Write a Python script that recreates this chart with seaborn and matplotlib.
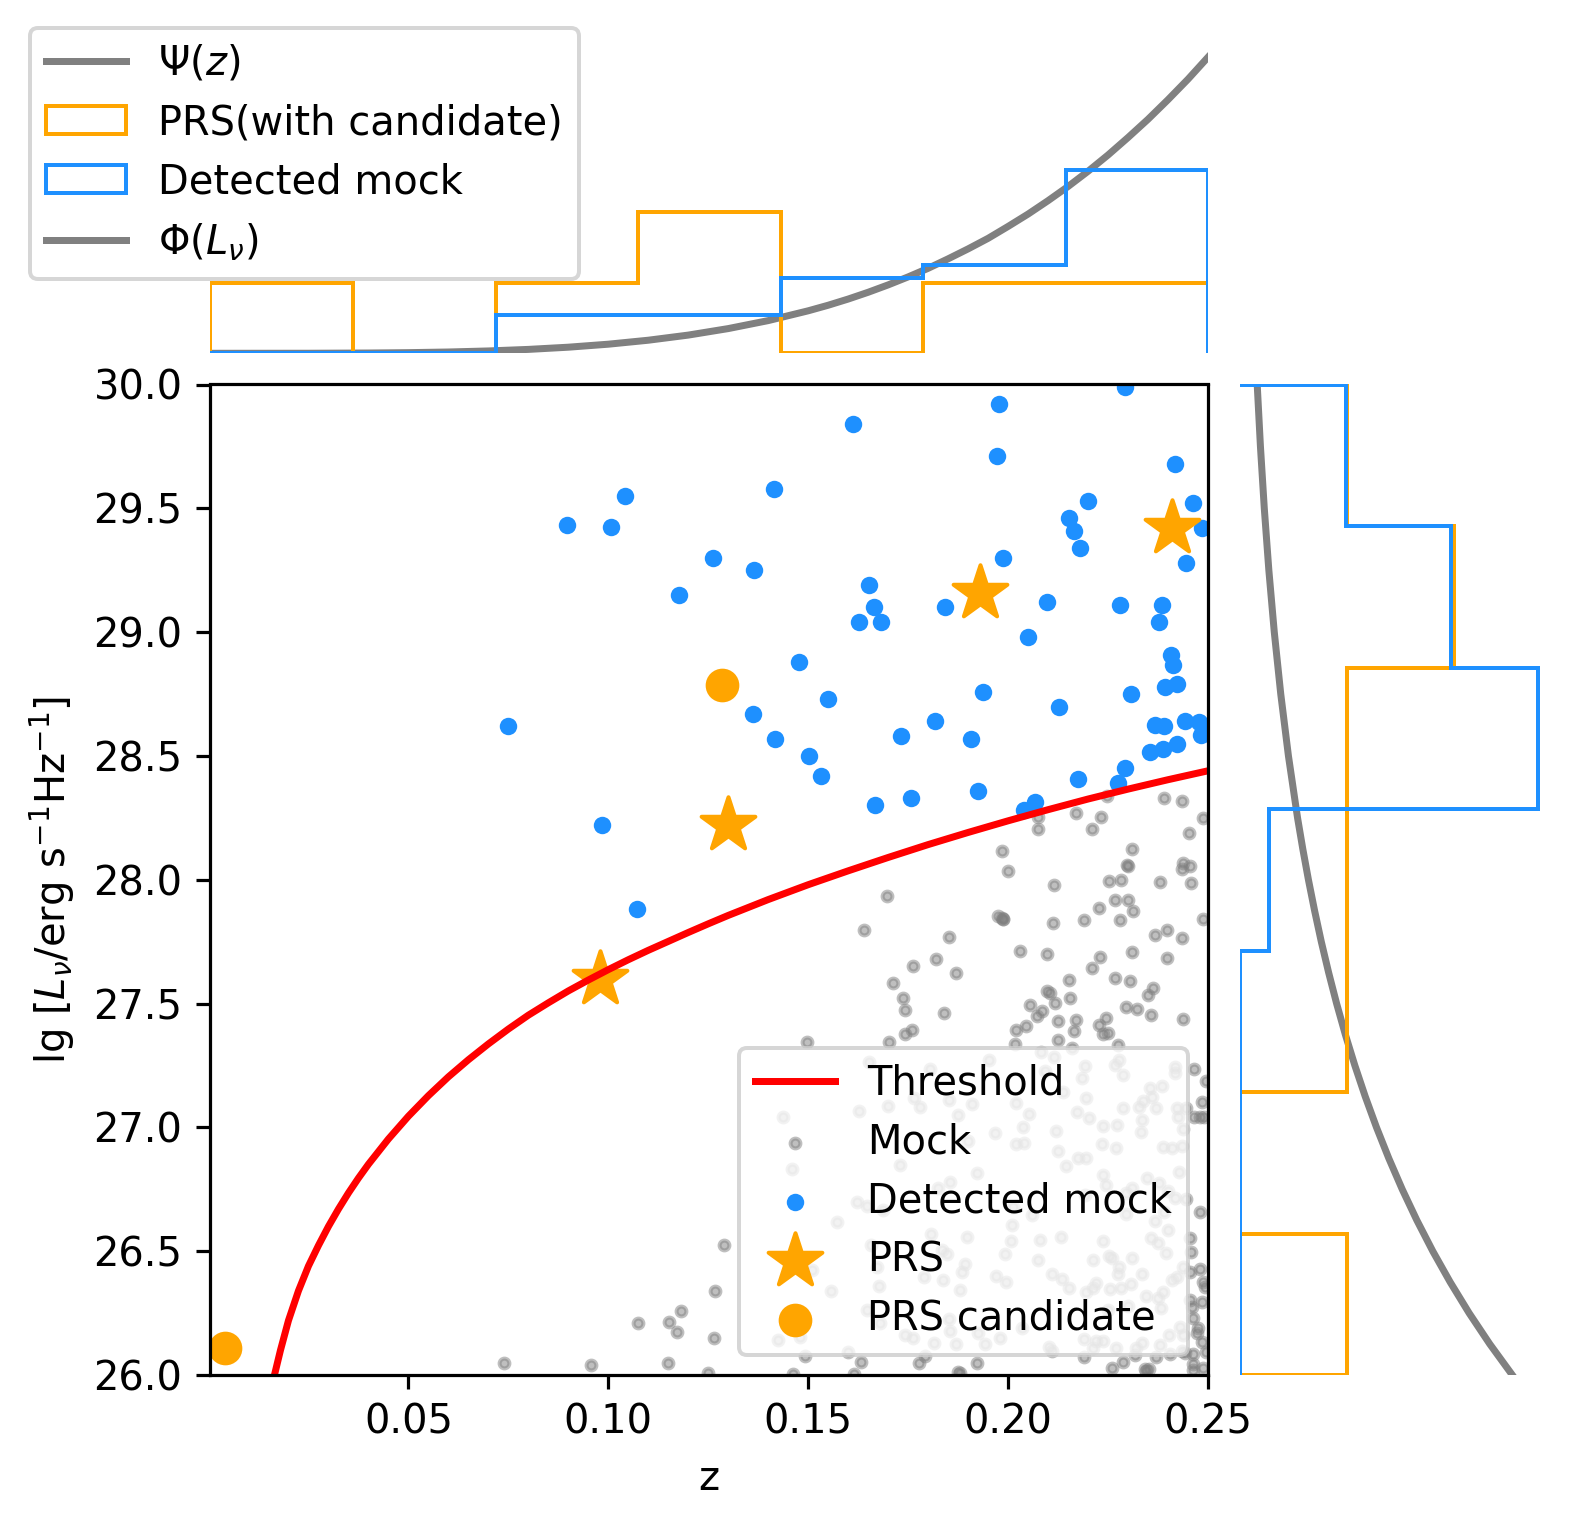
import numpy as np
import seaborn as sns
import matplotlib.pyplot as plt
from matplotlib.lines import Line2D

# --- values ---
detected_z = [.2292, .1977, .1612, .1972, .2418, .1415, .1042, .2201, .2463, .2153, .0896, .1007,
              .2166, .2484, .2181, .1261, .1987, .2446, .1365, .1652, .1176, .2098, .2279, .2385,
              .1841, .1665, .1627, .1682, .2378, .2050, .2408, .2413, .1478, .2392, .2422, .1937,
              .2307, .1549, .2127, .1362, .1818, .2442, .2478, .2367, .2390, .0749, .1418, .1733,
              .1907, .2483, .2423, .2388, .2356, .1503, .2292, .1533, .2175, .2274, .1924, .1756,
              .1667, .2067, .2040, .0983, .1072, .2560, .2495, .2000]
detected_lg = [29.99, 29.92, 29.84, 29.71, 29.68, 29.58, 29.55, 29.53, 29.52, 29.46, 29.431, 29.425,
               29.41, 29.42, 29.34, 29.30, 29.30, 29.28, 29.25, 29.19, 29.15, 29.12, 29.11, 29.11,
               29.10, 29.10, 29.04, 29.04, 29.04, 28.98, 28.909, 28.867, 28.88, 28.78, 28.79, 28.76,
               28.75, 28.73, 28.697, 28.67, 28.64, 28.641, 28.638, 28.625, 28.622, 28.62, 28.57, 28.58,
               28.57, 28.584, 28.548, 28.526, 28.514, 28.50, 28.45, 28.42, 28.405, 28.392, 28.36, 28.33,
               28.30, 28.312, 28.28, 28.22, 27.88, 28.70, 28.60, 30.1]

mock_z = [.2248, .2391, .2436, .2488, .2171, .2233, .2076, .2075, .2211, .2453, .1984, .2309,
          .2297, .2301, .2438, .2434, .2455, .2000, .2115, .2252, .2282, .2381, .2458, .2267,
          .2301, .2312, .2227, .1984, .1988, .2113, .2191, .2279, .2488, .2367, .2398, .2434,
          .2029, .2097, .2231, .2310, .2397, .2211, .2153, .2267, .2305, .2362, .2351, .2097,
          .2106, .2117, .2154, .2055, .2084, .2073, .2296, .2323, .2358, .2438, .2245, .2228,
          .2171, .2124, .2164, .2238, .2251, .2045, .2019, .2126, .2018, .2161, .2275, .2082,
          .2116, .2193, .2277, .2267, .2287, .2184, .2092, .2417, .2417, .2466, .2495, .2355,
          .2386, .1697, .1639, .1853, .1974, .1986, .1819, .1761, .1869, .1712, .1737, .1741,
          .1840, .1760, .1742, .1498, .1702, .1653, .1805, .1952, .1436, .1626, .1700, .1765,
          .1779, .1853, .1909, .1875, .1900, .1459, .1729, .1921, .1854, .1824, .1621, .1647,
          .1688, .1573, .2484, .2465, .2480, .2490, .2480, .2138, .2020, .2053, .2196, .2173,
          .2203, .2238, .2273, .2038, .2120, .1967, .2021, .2041, .2126, .2236, .2270, .2176,
          .2195, .2146, .2337, .2359, .2327, .2288, .2370, .2334, .2332, .2423, .2445, .2424,
          .2437, .2388, .2411, .2434, .2427, .2238, .2246, .2348, .2378, .2309, .2296, .2400,
          .2417, .2446, .2192, .2296, .2059, .2013, .2390, .1806, .1896, .1658, .1846, .1834,
          .1892, .1884, .1671, .1510, .1790, .1838, .1557, .1678, .1879, .1646, .1679, .1853,
          .1855, .1925, .1942, .1869, .1815, .1742, .1763, .1425, .1479, .1600, .1792, .1492,
          .1632, .1778, .1923, .1461, .1615, .1875, .1879, .2011, .2007, .1992, .2080, .2074,
          .2132, .2238, .2213, .2253, .2261, .2309, .2278, .2274, .2357, .2376, .2399, .2394,
          .2367, .2438, .2422, .2409, .2336, .1969, .1994, .2111, .2136, .2153, .2221, .2213,
          .2196, .2255, .2282, .2307, .2345, .2387, .2374, .2382, .2301, .2251, .2430, .2438,
          .2402, .2379, .2334, .2321, .2269, .2238, .2220, .2213, .2190, .2103, .2109, .1979,
          .2034, .2405, .2434, .2455, .2457, .2455, .2480, .2488, .2492, .2455, .2484, .2459,
          .2463, .2476, .2473, .2484, .2495, .2463, .2442, .2463, .2488, .2463, .2190, .2288,
          .2260, .2342, .2353, .2346, .2371, .2317, .1289, .1266, .1075, .1153, .1183, .1173,
          .1264, .0740, .0956, .1150, .1249]
mock_lg = [28.338, 28.332, 28.320, 28.248, 28.270, 28.254, 28.254, 28.205, 28.205, 28.190, 28.117, 28.125,
           28.060, 28.055, 28.069, 28.044, 28.055, 28.036, 27.978, 27.993, 27.999, 27.992, 27.985, 27.918,
           27.918, 27.872, 27.884, 27.844, 27.841, 27.824, 27.836, 27.836, 27.841, 27.777, 27.799, 27.763,
           27.714, 27.701, 27.689, 27.709, 27.686, 27.643, 27.596, 27.605, 27.590, 27.562, 27.533, 27.549,
           27.541, 27.504, 27.524, 27.495, 27.471, 27.450, 27.487, 27.480, 27.453, 27.436, 27.441, 27.415,
           27.434, 27.429, 27.390, 27.379, 27.383, 27.409, 27.395, 27.351, 27.336, 27.320, 27.333, 27.305,
           27.285, 27.247, 27.271, 27.250, 27.211, 27.201, 27.228, 27.242, 27.218, 27.234, 27.187, 27.160,
           27.168, 27.935, 27.799, 27.768, 27.853, 27.841, 27.681, 27.651, 27.624, 27.584, 27.522, 27.472,
           27.460, 27.394, 27.378, 27.346, 27.346, 27.262, 27.235, 27.272, 27.040, 27.067, 27.085, 27.117,
           27.081, 27.110, 27.094, 27.050, 26.945, 26.830, 26.848, 26.814, 26.781, 26.754, 26.700, 26.684,
           26.666, 26.619, 27.104, 27.040, 27.040, 27.043, 26.660, 27.141, 27.097, 27.054, 27.117, 27.063,
           27.039, 27.004, 27.010, 27.003, 26.985, 26.976, 26.931, 26.935, 26.906, 26.931, 26.915, 26.878,
           26.875, 26.845, 27.108, 27.124, 27.081, 27.080, 27.077, 27.030, 26.980, 27.080, 27.077, 27.040,
           26.993, 26.922, 26.915, 26.925, 26.821, 26.808, 26.767, 26.794, 26.774, 26.754, 26.734, 26.744,
           26.713, 26.709, 26.727, 26.650, 26.646, 26.680, 26.660, 26.569, 26.556, 26.525, 26.487, 26.505,
           26.447, 26.417, 26.438, 26.424, 26.394, 26.384, 26.339, 26.360, 26.343, 26.263, 26.209, 26.226,
           26.178, 26.168, 26.125, 26.125, 26.131, 26.162, 26.148, 26.141, 26.152, 26.092, 26.078, 26.078,
           26.051, 26.050, 26.047, 26.003, 26.003, 26.014, 26.007, 26.606, 26.543, 26.487, 26.545, 26.464,
           26.556, 26.541, 26.464, 26.481, 26.471, 26.474, 26.438, 26.408, 26.552, 26.532, 26.586, 26.491,
           26.620, 26.438, 26.397, 26.384, 26.407, 26.400, 26.374, 26.407, 26.386, 26.350, 26.370, 26.350,
           26.337, 26.346, 26.351, 26.368, 26.319, 26.337, 26.310, 26.269, 26.279, 26.263, 26.195, 26.162,
           26.162, 26.121, 26.131, 26.108, 26.108, 26.139, 26.139, 26.108, 26.145, 26.115, 26.095, 26.148,
           26.188, 26.085, 26.098, 26.552, 26.498, 26.417, 26.427, 26.377, 26.357, 26.303, 26.296, 26.276,
           26.229, 26.188, 26.168, 26.135, 26.094, 26.085, 26.088, 26.045, 26.027, 26.020, 26.074, 26.054,
           26.030, 26.025, 26.025, 26.018, 26.074, 26.080, 26.525, 26.338, 26.212, 26.216, 26.260, 26.175,
           26.151, 26.050, 26.040, 26.050, 26.010]

prs_z = [.098, .130, .193, .241]
prs_lg = [27.60, 28.22, 29.16, 29.42]
cand_z = [.1285, .0042]
cand_lg = [28.785, 26.11]
# one more PRS enters the lg histogram only (z beyond the plotted range)
extra_lg = [29.50]

thresh_z = [.0165, .018, .02, .0225, .025, .0275, .03, .0325, .035, .0375, .04, .045, .05, .055, .06,
            .065, .07, .075, .08, .085, .09, .095, .10, .105, .11, .115, .12, .125, .13, .14, .15,
            .16, .17, .18, .19, .20, .21, .22, .23, .24, .25]
thresh_lg = [26.0, 26.10, 26.22, 26.34, 26.44, 26.523, 26.60, 26.67, 26.735, 26.795, 26.851, 26.953,
             27.045, 27.128, 27.204, 27.273, 27.337, 27.397, 27.453, 27.503, 27.551, 27.595, 27.637,
             27.677, 27.715, 27.751, 27.787, 27.822, 27.856, 27.92, 27.98, 28.036, 28.09, 28.142,
             28.191, 28.238, 28.283, 28.326, 28.366, 28.404, 28.44]

psi_z = [.0005, .025, .04, .05, .06, .07, .08, .09, .10, .11, .12, .13, .14, .15, .155, .16, .165, .17,
         .175, .18, .185, .19, .195, .20, .205, .21, .215, .22, .225, .23, .235, .24, .245, .25]
psi_val = [0, .003, .019, .043, .086, .156, .259, .405, .604, .868, 1.208, 1.64, 2.17, 2.82, 3.19, 3.60,
           4.05, 4.54, 5.07, 5.64, 6.27, 6.93, 7.63, 8.42, 9.24, 10.13, 11.07, 12.08, 13.16, 14.32,
           15.53, 16.83, 18.19, 19.65]

phi_lg = [26, 26.125, 26.25, 26.375, 26.5, 26.625, 26.75, 26.875, 27, 27.125, 27.25, 27.375, 27.5, 27.625,
          27.75, 27.875, 28, 28.125, 28.25, 28.5, 28.75, 29, 29.25, 29.5, 29.75, 30]
phi_val = [.741, .6797, .6235, .572, .5246, .4812, .4414, .4049, .3714, .3407, .3125, .2866, .2629, .2412,
           .2212, .2030, .1862, .1708, .1566, .1318, .1109, .0933, .0785, .0661, .0556, .0468]

x_ticks = [.05, .10, .15, .20, .25]
y_ticks = [26, 26.5, 27, 27.5, 28, 28.5, 29, 29.5, 30]

W, H, DPI = 1580, 1526, 288


def add_axes_px(fig, left, top, right, bottom):
    return fig.add_axes([left / W, 1 - bottom / H, (right - left) / W, (bottom - top) / H])


fig = plt.figure(figsize=(W / DPI, H / DPI), dpi=DPI)
ax = add_axes_px(fig, 210.5, 384.5, 1208, 1375)
ax_top = add_axes_px(fig, 210.5, 48.9, 1208, 353.3)
ax_right = add_axes_px(fig, 1240, 384.5, 1542, 1375)

# --- main panel ---
sns.lineplot(x=thresh_z, y=thresh_lg, color='red', lw=1.75, label='Threshold', ax=ax, legend=False, errorbar=None)
sns.scatterplot(x=mock_z, y=mock_lg, color='gray', edgecolor='gray', s=6, linewidth=1, alpha=0.5, label='Mock', ax=ax, legend=False)
sns.scatterplot(x=detected_z, y=detected_lg, color='dodgerblue', s=19, linewidth=0, label='Detected mock', ax=ax, legend=False)
sns.scatterplot(x=prs_z, y=prs_lg, color='orange', edgecolor='orange', marker='*', s=200, linewidth=1, label='PRS', ax=ax, legend=False)
sns.scatterplot(x=cand_z, y=cand_lg, color='orange', edgecolor='orange', s=55, linewidth=1, label='PRS candidate', ax=ax, legend=False)
ax.set_xlim(.0005, .25)
ax.set_ylim(26, 30)
ax.set_xticks(x_ticks)
ax.set_xticklabels([f'{t:.2f}' for t in x_ticks])
ax.set_yticks(y_ticks)
ax.set_yticklabels([f'{t:.1f}' for t in y_ticks])
ax.set_xlabel('z')
ax.set_ylabel(r'lg [$L_{\nu}$/erg s$^{-1}$Hz$^{-1}$]')
ax.legend(loc='lower right', labelspacing=0.47)

# --- z marginal ---
z_bins = np.linspace(.0005, .25, 8)
_, _, patch_prs = ax_top.hist(prs_z + cand_z, bins=z_bins, density=True, histtype='step', color='orange', lw=1)
_, _, patch_det = ax_top.hist(detected_z, bins=z_bins, density=True, histtype='step', color='dodgerblue', lw=1)
sns.lineplot(x=psi_z, y=psi_val, color='gray', lw=1.75, ax=ax_top, legend=False, errorbar=None, zorder=1)
ax_top.set_xlim(.0005, .25)
ax_top.set_ylim(0, 20.2)
ax_top.axis('off')

# --- lg L marginal ---
lg_bins = np.linspace(26, 30, 8)
all_prs_lg = prs_lg + cand_lg + extra_lg
ax_right.hist(all_prs_lg, bins=lg_bins, weights=[.2917] * len(all_prs_lg), histtype='step',
              orientation='horizontal', color='orange', lw=1)
ax_right.hist(detected_lg, bins=lg_bins, density=True, histtype='step', orientation='horizontal',
              color='dodgerblue', lw=1)
sns.lineplot(x=phi_val, y=phi_lg, orient='y', color='gray', lw=1.75, ax=ax_right, legend=False, errorbar=None, zorder=1)
ax_right.set_xlim(0, .8218)
ax_right.set_ylim(26, 30)
ax_right.axis('off')

handles = [Line2D([], [], color='gray', lw=1.75), patch_prs[0], patch_det[0], Line2D([], [], color='gray', lw=1.75)]
labels = [r'$\Psi(z)$', 'PRS(with candidate)', 'Detected mock', r'$\Phi(L_{\nu})$']
ax_top.legend(handles, labels, loc='upper left', bbox_to_anchor=(30 / W, 1 - 28 / H),
              bbox_transform=fig.transFigure, borderaxespad=0, labelspacing=0.48)

fig.savefig('out.png', dpi=DPI)
